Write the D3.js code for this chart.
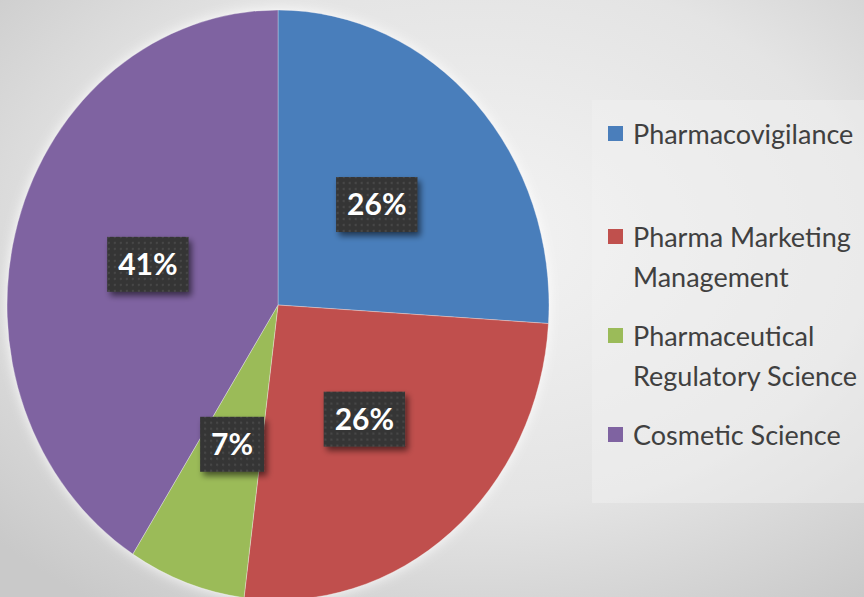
<!DOCTYPE html>
<html>
<head>
<meta charset="utf-8">
<script src="https://cdn.jsdelivr.net/npm/d3@7"></script>
<style>
  html, body { margin: 0; padding: 0; }
  body { width: 864px; height: 597px; overflow: hidden; }
</style>
</head>
<body>
<div id="chart"></div>
<script>
const categories = ["Pharmacovigilance", "Pharma Marketing Management", "Pharmaceutical Regulatory Science", "Cosmetic Science"];
const legendLines = [["Pharmacovigilance"], ["Pharma Marketing", "Management"], ["Pharmaceutical", "Regulatory Science"], ["Cosmetic Science"]];
const values = [26, 26, 7, 41];
const colors = ["#4a7ebb", "#c0504d", "#9bbb59", "#7f63a1"];

const width = 864, height = 597;
const cx = 278, cy = 305, rx = 271, ry = 295;

const svg = d3.select("#chart").append("svg")
  .attr("width", width).attr("height", height);

const defs = svg.append("defs");
const bg = defs.append("radialGradient").attr("id", "bg")
  .attr("cx", "55%").attr("cy", "40%").attr("r", "75%");
bg.append("stop").attr("offset", "0%").attr("stop-color", "#f3f3f3");
bg.append("stop").attr("offset", "60%").attr("stop-color", "#e4e4e4");
bg.append("stop").attr("offset", "100%").attr("stop-color", "#c9c9c9");

const glow = defs.append("filter").attr("id", "glow")
  .attr("x", "-10%").attr("y", "-10%").attr("width", "120%").attr("height", "120%");
glow.append("feGaussianBlur").attr("in", "SourceAlpha").attr("stdDeviation", 6);
glow.append("feOffset").attr("dx", 0).attr("dy", 0).attr("result", "b");
glow.append("feFlood").attr("flood-color", "#ffffff").attr("flood-opacity", 0.9);
glow.append("feComposite").attr("in2", "b").attr("operator", "in");
const gm = glow.append("feMerge");
gm.append("feMergeNode");
gm.append("feMergeNode").attr("in", "SourceGraphic");

const shadow = defs.append("filter").attr("id", "shadow")
  .attr("x", "-30%").attr("y", "-30%").attr("width", "160%").attr("height", "160%");
shadow.append("feGaussianBlur").attr("in", "SourceAlpha").attr("stdDeviation", 3);
shadow.append("feOffset").attr("dx", 3).attr("dy", 4).attr("result", "o");
shadow.append("feComponentTransfer").append("feFuncA").attr("type", "linear").attr("slope", 0.55);
const sm = shadow.append("feMerge");
sm.append("feMergeNode");
sm.append("feMergeNode").attr("in", "SourceGraphic");

const dots = defs.append("pattern").attr("id", "dots")
  .attr("width", 6).attr("height", 6).attr("patternUnits", "userSpaceOnUse");
dots.append("rect").attr("width", 6).attr("height", 6).attr("fill", "#353535");
dots.append("circle").attr("cx", 3).attr("cy", 3).attr("r", 1.2).attr("fill", "#474747");

svg.append("rect").attr("width", width).attr("height", height).attr("fill", "url(#bg)");

// legend panel
svg.append("rect")
  .attr("x", 592).attr("y", 100).attr("width", 272).attr("height", 403)
  .attr("fill", "#f2f2f2").attr("opacity", 0.45);

const pie = d3.pie().sort(null).value(d => d);
const arcs = pie(values);
const arc = d3.arc().innerRadius(0).outerRadius(rx);

const pieG = svg.append("g")
  .attr("transform", `translate(${cx},${cy}) scale(1,${ry / rx})`)
  .attr("filter", "url(#glow)");

pieG.selectAll("path")
  .data(arcs)
  .enter()
  .append("path")
  .attr("d", arc)
  .attr("fill", (d, i) => colors[i])
  .attr("stroke", "#ffffff")
  .attr("stroke-opacity", 0.35)
  .attr("stroke-width", 0.8);

// data labels
const labels = svg.selectAll("g.lbl")
  .data(arcs)
  .enter()
  .append("g")
  .attr("class", "lbl")
  .attr("transform", d => {
    const c = arc.centroid(d);
    return `translate(${cx + c[0]},${cy + c[1] * ry / rx})`;
  });

labels.each(function(d) {
  const g = d3.select(this);
  const t = g.append("text")
    .attr("text-anchor", "middle")
    .attr("y", 11)
    .attr("font-family", "Lato, 'Open Sans', sans-serif")
    .attr("font-weight", "bold")
    .attr("font-size", 30)
    .attr("fill", "#ffffff")
    .text(d.data + "%");
  const w = t.node().getComputedTextLength() + 22;
  g.insert("rect", "text")
    .attr("x", -w / 2).attr("y", -27)
    .attr("width", w).attr("height", 55)
    .attr("fill", "url(#dots)")
    .attr("filter", "url(#shadow)");
});

// legend
const legendY = [134, 237, 336, 435];
const leg = svg.selectAll("g.leg")
  .data(categories)
  .enter()
  .append("g")
  .attr("class", "leg")
  .attr("transform", (d, i) => `translate(608,${legendY[i]})`);

leg.append("rect")
  .attr("x", 0).attr("y", -8)
  .attr("width", 15).attr("height", 15)
  .attr("fill", (d, i) => colors[i]);

leg.append("text")
  .attr("x", 25)
  .attr("y", 10)
  .attr("font-family", "Lato, 'Open Sans', sans-serif")
  .attr("font-size", 27)
  .attr("fill", "#404040")
  .selectAll("tspan")
  .data((d, i) => legendLines[i])
  .enter()
  .append("tspan")
  .attr("x", 25)
  .attr("dy", (d, j) => j === 0 ? 0 : 40)
  .text(d => d);
</script>
</body>
</html>
